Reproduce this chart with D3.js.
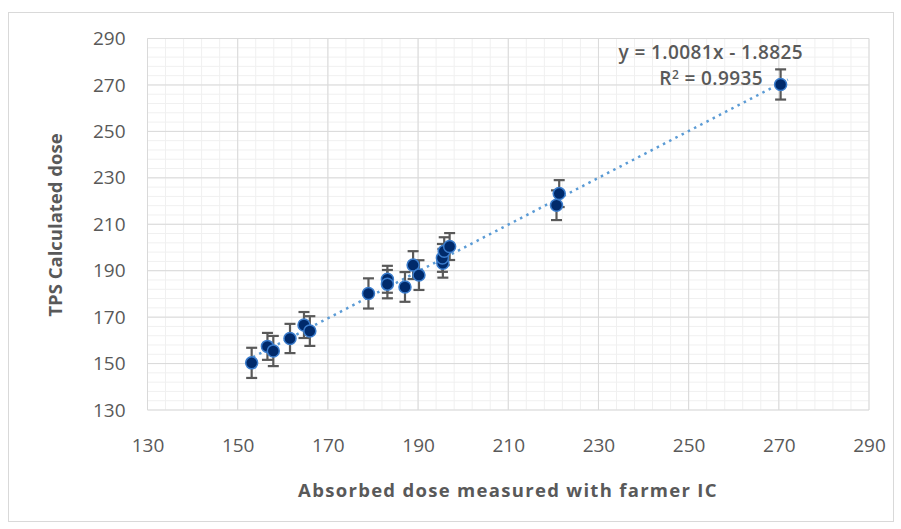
<!DOCTYPE html>
<html>
<head>
<meta charset="utf-8">
<script src="https://cdn.jsdelivr.net/npm/d3@7"></script>
<style>
  body { margin: 0; background: #fff; }
  text { font-family: "Open Sans", Lato, sans-serif; }
</style>
</head>
<body>
<div id="chart"></div>
<script>
// measured dose (farmer IC) vs TPS calculated dose, with error bars
const measured   = [153.1, 156.6, 157.9, 161.6, 164.7, 166.0, 179.0, 183.2, 183.2, 187.1, 188.9, 190.2, 195.5, 195.4, 195.8, 197.0, 220.7, 221.3, 270.4];
const calculated = [150.3, 157.4, 155.4, 160.8, 166.6, 164.0, 180.2, 186.3, 184.2, 183.0, 192.4, 188.1, 193.2, 195.5, 198.4, 200.4, 218.2, 223.2, 270.2];
const errors     = [6.5, 5.8, 6.5, 6.3, 5.6, 6.4, 6.5, 5.8, 6.1, 6.4, 6.0, 6.4, 6.2, 6.0, 6.0, 5.8, 6.4, 5.8, 6.5];
const xTicks = [130, 150, 170, 190, 210, 230, 250, 270, 290];
const yTicks = [130, 150, 170, 190, 210, 230, 250, 270, 290];
const slope = 1.0081, intercept = -1.8825;
const trendRange = [152, 272];

const width = 901, height = 529;
const margin = { left: 147.5, right: 32, top: 38.5, bottom: 119 };

const svg = d3.select("#chart").append("svg")
    .attr("width", width)
    .attr("height", height);

// outer chart border
svg.append("rect")
    .attr("x", 8.5).attr("y", 12.5)
    .attr("width", width - 16).attr("height", height - 20)
    .attr("fill", "#fff")
    .attr("stroke", "#d9d9d9");

const x = d3.scaleLinear().domain([130, 290]).range([margin.left, width - margin.right]);
const y = d3.scaleLinear().domain([130, 290]).range([height - margin.bottom, margin.top]);

const minor = d3.range(130, 290.1, 4);

// minor grid
svg.append("g").selectAll("line").data(minor).enter().append("line")
    .attr("x1", d => x(d)).attr("x2", d => x(d))
    .attr("y1", y(130)).attr("y2", y(290))
    .style("stroke", "#f0f0f0");
svg.append("g").selectAll("line").data(minor).enter().append("line")
    .attr("y1", d => y(d)).attr("y2", d => y(d))
    .attr("x1", x(130)).attr("x2", x(290))
    .style("stroke", "#f0f0f0");

// major grid
svg.append("g").selectAll("line").data(xTicks).enter().append("line")
    .attr("x1", d => x(d)).attr("x2", d => x(d))
    .attr("y1", y(130)).attr("y2", y(290))
    .style("stroke", "#d9d9d9");
svg.append("g").selectAll("line").data(yTicks).enter().append("line")
    .attr("y1", d => y(d)).attr("y2", d => y(d))
    .attr("x1", x(130)).attr("x2", x(290))
    .style("stroke", "#d9d9d9");

// axes, labels only
const xAxis = svg.append("g")
    .attr("transform", `translate(0,${y(130)})`)
    .call(d3.axisBottom(x).tickValues(xTicks).tickSize(0).tickPadding(29));
const yAxis = svg.append("g")
    .attr("transform", `translate(${x(130)},0)`)
    .call(d3.axisLeft(y).tickValues(yTicks).tickSize(0).tickPadding(22));
[xAxis, yAxis].forEach(a => {
    a.select(".domain").remove();
    a.selectAll("text")
        .style("font-size", "19px")
        .style("fill", "#595959")
        .style("font-family", "'Open Sans', sans-serif");
});

// axis titles
svg.append("text")
    .attr("x", 508).attr("y", 497)
    .attr("text-anchor", "middle")
    .style("font-size", "18.5px").style("font-weight", "bold")
    .style("letter-spacing", "1.3px")
    .style("fill", "#595959")
    .text("Absorbed dose measured with farmer IC");

svg.append("text")
    .attr("transform", "translate(62,225) rotate(-90)")
    .attr("text-anchor", "middle")
    .style("font-size", "18.5px").style("font-weight", "bold")
    .style("fill", "#595959")
    .text("TPS Calculated dose");

// trendline
svg.append("line")
    .attr("x1", x(trendRange[0])).attr("y1", y(slope * trendRange[0] + intercept))
    .attr("x2", x(trendRange[1])).attr("y2", y(slope * trendRange[1] + intercept))
    .style("stroke", "#5b9bd5")
    .style("stroke-width", 2.5)
    .style("stroke-dasharray", "2.5,4.5");

const points = measured.map((m, i) => ({ x: m, y: calculated[i], e: errors[i] }));

// error bars
const eb = svg.append("g").selectAll("g").data(points).enter().append("g")
    .style("stroke", "#595959").style("stroke-width", 2.2);
eb.append("line")
    .attr("x1", d => x(d.x)).attr("x2", d => x(d.x))
    .attr("y1", d => y(d.y - d.e)).attr("y2", d => y(d.y + d.e));
eb.append("line")
    .attr("x1", d => x(d.x) - 5.5).attr("x2", d => x(d.x) + 5.5)
    .attr("y1", d => y(d.y + d.e)).attr("y2", d => y(d.y + d.e));
eb.append("line")
    .attr("x1", d => x(d.x) - 5.5).attr("x2", d => x(d.x) + 5.5)
    .attr("y1", d => y(d.y - d.e)).attr("y2", d => y(d.y - d.e));

// markers
svg.append("g").selectAll("circle").data(points).enter().append("circle")
    .attr("cx", d => x(d.x)).attr("cy", d => y(d.y))
    .attr("r", 6)
    .style("fill", "#002a6b")
    .style("stroke", "#3a7ccc")
    .style("stroke-width", 1.5);

// equation label
const eq = svg.append("g")
    .style("font-size", "19px").style("font-weight", "600")
    .style("letter-spacing", "0.4px")
    .style("fill", "#595959");
eq.append("text")
    .attr("x", 803).attr("y", 59)
    .attr("text-anchor", "end")
    .text("y = 1.0081x - 1.8825");
const r2 = eq.append("text")
    .attr("x", 763).attr("y", 85)
    .attr("text-anchor", "end");
r2.append("tspan").text("R");
r2.append("tspan").attr("dy", -6).style("font-size", "12px").text("2");
r2.append("tspan").attr("dy", 6).text(" = 0.9935");
</script>
</body>
</html>
